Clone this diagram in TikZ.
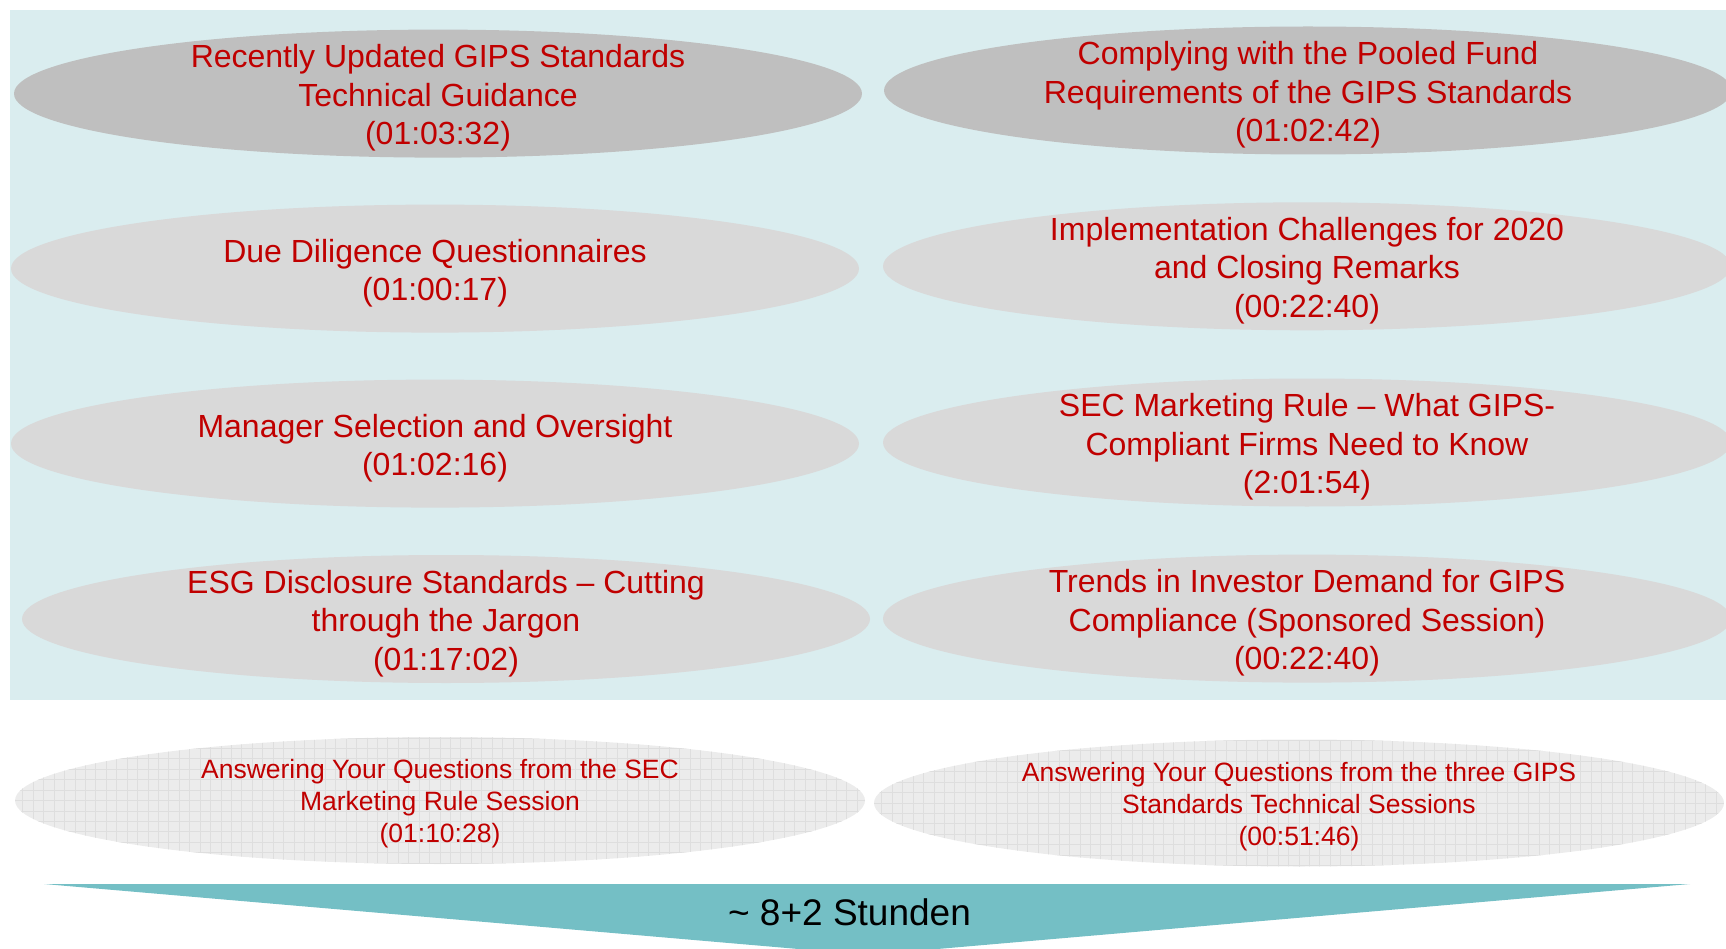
\documentclass[tikz,border=0pt]{standalone}
\usepackage{fontspec}
\setmainfont{Liberation Sans}
\usetikzlibrary{shapes.geometric}

\definecolor{panelbg}{RGB}{218,237,239}
\definecolor{ellDark}{RGB}{191,191,191}
\definecolor{ellLight}{RGB}{217,217,217}
\definecolor{ellGrid}{RGB}{236,236,236}
\definecolor{gridLine}{RGB}{222,222,222}
\definecolor{txtRed}{RGB}{192,0,0}
\definecolor{arrowTeal}{RGB}{116,191,197}

\tikzset{
  sessionell/.style={ellipse, inner sep=0pt, minimum width=848pt, minimum height=128pt},
  darkell/.style={sessionell, fill=ellDark},
  lightell/.style={sessionell, fill=ellLight},
  gridell/.style={sessionell, fill=ellGrid, minimum width=850pt, minimum height=127pt,
    path picture={\draw[gridLine, line width=0.8pt]
      (path picture bounding box.south west) grid[step=10.43pt]
      (path picture bounding box.north east);}},
  sessiontxt/.style={align=center, text=txtRed, inner sep=0pt, yshift=-4.4pt,
    font=\fontsize{32}{38.5}\selectfont},
  qatxt/.style={align=center, text=txtRed, inner sep=0pt, yshift=-3.3pt,
    font=\fontsize{26.5}{32}\selectfont},
  totaltxt/.style={text=black, inner sep=0pt, font=\fontsize{37}{44}\selectfont}
}

\begin{document}
\begin{tikzpicture}[x=1pt, y=-1pt]
  \useasboundingbox (0,0) rectangle (1726,949);
  \clip (0,0) rectangle (1726,949);

  % shaded panel behind the eight main sessions
  \fill[panelbg] (10,10) rectangle (1740,700);

  % main sessions, two columns
  \node[darkell]  (e1) at (438,93.6)   {};
  \node[darkell]  (e2) at (1308,90.5)  {};
  \node[lightell] (e3) at (435,268.6)  {};
  \node[lightell] (e4) at (1307,266.3) {};
  \node[lightell] (e5) at (435,443.6)  {};
  \node[lightell] (e6) at (1307,442.5) {};
  \node[lightell] (e7) at (446,619)    {};
  \node[lightell] (e8) at (1307,618.6) {};

  \node[sessiontxt] (t1) at (e1.center) {Recently Updated GIPS Standards\\Technical Guidance\\(01:03:32)};
  \node[sessiontxt] (t2) at (e2.center) {Complying with the Pooled Fund\\Requirements of the GIPS Standards\\(01:02:42)};
  \node[sessiontxt] (t3) at (e3.center) {Due Diligence Questionnaires\\(01:00:17)};
  \node[sessiontxt] (t4) at (e4.center) {Implementation Challenges for 2020\\and Closing Remarks\\(00:22:40)};
  \node[sessiontxt] (t5) at (e5.center) {Manager Selection and Oversight\\(01:02:16)};
  \node[sessiontxt] (t6) at (e6.center) {SEC Marketing Rule – What GIPS-\\Compliant Firms Need to Know\\(2:01:54)};
  \node[sessiontxt] (t7) at (e7.center) {ESG Disclosure Standards – Cutting\\through the Jargon\\(01:17:02)};
  \node[sessiontxt] (t8) at (e8.center) {Trends in Investor Demand for GIPS\\Compliance (Sponsored Session)\\(00:22:40)};

  % Q&A sessions
  \node[gridell] (q1) at (440,800.5)  {};
  \node[gridell] (q2) at (1299,803)   {};
  \node[qatxt] (qt1) at (q1.center) {Answering Your Questions from the SEC\\Marketing Rule Session\\(01:10:28)};
  \node[qatxt] (qt2) at (q2.center) {Answering Your Questions from the three GIPS\\Standards Technical Sessions\\(00:51:46)};

  % total duration arrow
  \coordinate (tl) at (44,884);
  \coordinate (tr) at (1690,884);
  \coordinate (tip) at (868,955);
  \fill[arrowTeal] (tl) -- (tr) -- (tip) -- cycle;
  \node[totaltxt, anchor=base] (total) at (849.5,925) {\textasciitilde{} 8+2 Stunden};
\end{tikzpicture}
\end{document}
